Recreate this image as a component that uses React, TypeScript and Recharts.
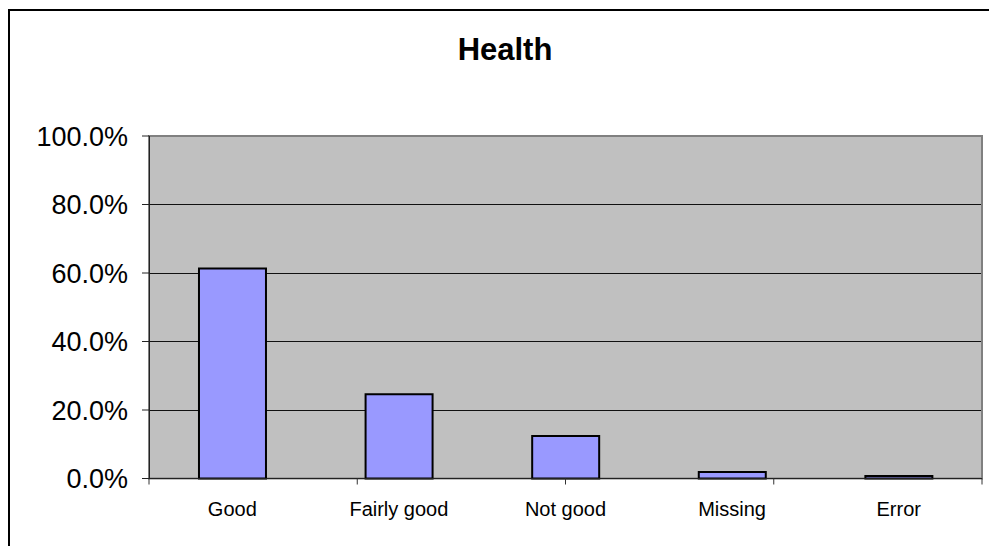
import { BarChart, Bar, XAxis, YAxis, CartesianGrid, ReferenceArea } from 'recharts'

const categories = ['Good', 'Fairly good', 'Not good', 'Missing', 'Error']
const shares = [61.3, 24.6, 12.4, 1.9, 0.7]
const yTicks = [0, 20, 40, 60, 80, 100]
const gridValues = [20, 40, 60, 80]
const bandEdges = [0, 1, 2, 3, 4, 5]

const FONT = '"Liberation Sans", Arial, sans-serif'

const chartData = categories.map((name, i) => ({ name, share: shares[i] }))

const noLabel = () => <g />

export default function App() {
  return (
    <div style={{ position: 'absolute', left: 0, top: 0, width: 989, height: 546, overflow: 'hidden', background: '#fff', fontFamily: FONT }}>
      <div style={{ position: 'absolute', left: 8, top: 9, width: 1100, height: 700, borderTop: '2px solid #000', borderLeft: '2px solid #000' }} />
      <div style={{ position: 'absolute', left: 405, top: 32, width: 200, textAlign: 'center', fontSize: 31, fontWeight: 'bold', color: '#000', lineHeight: '36px' }}>
        Health
      </div>
      <div style={{ position: 'absolute', left: 0, top: 0 }}>
        <BarChart width={989} height={546} data={chartData} margin={{ top: 136, right: 7, bottom: 0, left: 0 }} barCategoryGap="30%">
          <CartesianGrid fill="#c0c0c0" vertical={false} horizontalValues={gridValues} stroke="#111" strokeOpacity={1} shapeRendering="crispEdges" />
          <ReferenceArea y1={0} y2={100} fill="none" stroke="#808080" strokeWidth={2} ifOverflow="visible" />
          <XAxis xAxisId="base" type="number" domain={[0, 5]} ticks={bandEdges} interval={0} tick={noLabel} tickSize={6} height={1}
            stroke="#222" axisLine={{ stroke: '#222', shapeRendering: 'crispEdges' }} tickLine={{ stroke: '#333' }} allowDataOverflow />
          <XAxis xAxisId="names" dataKey="name" height={66.5} tickLine={false} axisLine={false} tickSize={0} tickMargin={22} interval={0}
            tick={{ fill: '#000', fontSize: 20, fontFamily: FONT }} />
          <YAxis domain={[0, 100]} ticks={yTicks} interval={0} width={149} tickSize={7} tickMargin={14} stroke="#222"
            axisLine={{ stroke: '#222', shapeRendering: 'crispEdges' }}
            tickFormatter={(v: number) => `${v.toFixed(1)}%`}
            tick={{ fill: '#000', fontSize: 27, fontFamily: FONT }} />
          <Bar xAxisId="names" dataKey="share" fill="#9999ff" stroke="#000" strokeWidth={2} isAnimationActive={false} />
        </BarChart>
      </div>
    </div>
  )
}
